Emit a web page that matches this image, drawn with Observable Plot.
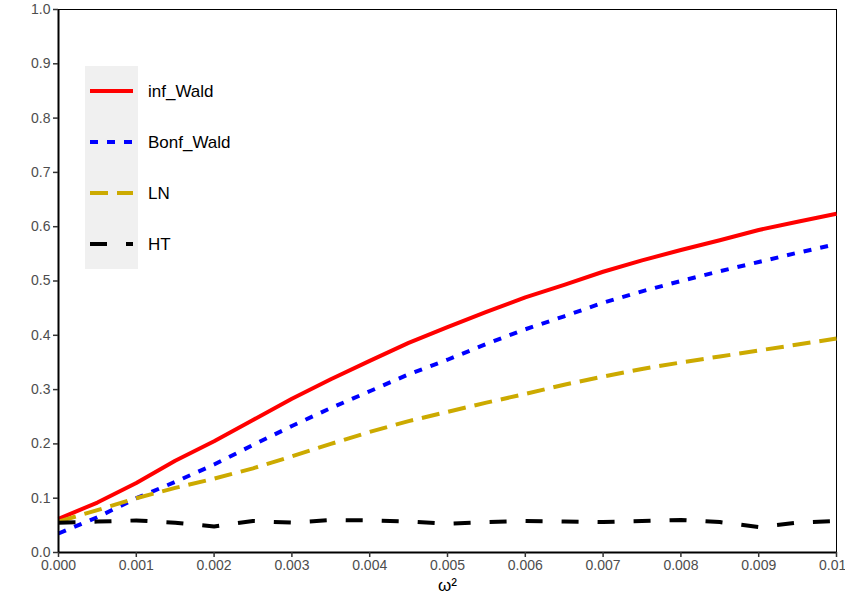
<!DOCTYPE html>
<html>
<head>
<meta charset="utf-8">
<script src="https://cdn.jsdelivr.net/npm/d3@7"></script>
<script src="https://cdn.jsdelivr.net/npm/@observablehq/plot@0.6"></script>
<style>
  body { margin: 0; background: #fff; font-family: "Liberation Sans", Arial, sans-serif; }
  #wrap { position: relative; width: 845px; height: 610px; overflow: hidden; }
  #legend { position: absolute; left: 85px; top: 66px; }
</style>
</head>
<body>
<div id="wrap">
  <div id="chart"></div>
  <div id="legend"></div>
</div>
<script>
const omega2 = [0,0.0005,0.001,0.0015,0.002,0.0025,0.003,0.0035,0.004,0.0045,0.005,0.0055,0.006,0.0065,0.007,0.0075,0.008,0.0085,0.009,0.0095,0.01];
const infWald  = [0.062,0.092,0.128,0.169,0.205,0.244,0.283,0.319,0.353,0.386,0.415,0.443,0.470,0.493,0.517,0.538,0.557,0.575,0.594,0.609,0.624];
const bonfWald = [0.035,0.065,0.100,0.130,0.162,0.198,0.233,0.266,0.297,0.328,0.355,0.384,0.411,0.435,0.460,0.481,0.500,0.518,0.535,0.552,0.568];
const LN       = [0.057,0.078,0.100,0.119,0.136,0.155,0.177,0.200,0.222,0.242,0.259,0.276,0.292,0.309,0.324,0.338,0.350,0.361,0.372,0.383,0.394];
const HT       = [0.055,0.057,0.059,0.055,0.048,0.058,0.055,0.060,0.059,0.057,0.053,0.056,0.058,0.057,0.056,0.058,0.060,0.056,0.047,0.055,0.058];
const seriesNames = ["inf_Wald","Bonf_Wald","LN","HT"];
const seriesValues = [infWald, bonfWald, LN, HT];
const seriesColors = ["#ff0000","#0000ff","#ccaa00","#000000"];
const seriesDash = [null,"8,9","18,9","17,19"];
const xTicks = [0,0.001,0.002,0.003,0.004,0.005,0.006,0.007,0.008,0.009,0.01];
const yTicks = [0,0.1,0.2,0.3,0.4,0.5,0.6,0.7,0.8,0.9,1.0];

const lines = seriesNames.map((name, i) =>
  Plot.line(omega2.map((x, j) => ({x, y: seriesValues[i][j]})), {
    x: "x", y: "y", stroke: seriesColors[i], strokeWidth: 4,
    strokeDasharray: seriesDash[i] ?? undefined, strokeLinecap: "butt", strokeLinejoin: "round"
  })
);

const chart = Plot.plot({
  width: 845, height: 610,
  marginLeft: 58, marginRight: 9, marginTop: 9, marginBottom: 58,
  style: { fontFamily: "Liberation Sans, Arial, sans-serif", fontSize: "14px", background: "#fff" },
  x: { domain: [0, 0.01] },
  y: { domain: [0, 1] },
  marks: [
    Plot.frame({ stroke: "#000", strokeWidth: 1 }),
    ...lines,
    Plot.ruleX([0], { stroke: "#000", strokeWidth: 2 }),
    Plot.ruleY([0], { stroke: "#000", strokeWidth: 2 }),
    Plot.axisX(xTicks, { tickFormat: d3.format(".3f"), tickSize: 5, tickPadding: 3, stroke: "#333", strokeWidth: 1.5, color: "#4d4d4d", fontSize: 14, label: null }),
    Plot.axisY(yTicks, { tickFormat: d3.format(".1f"), tickSize: 5, tickPadding: 3, stroke: "#333", strokeWidth: 1.5, color: "#4d4d4d", fontSize: 14, label: null }),
    Plot.text(["ω²"], { frameAnchor: "bottom", dy: 38, fontSize: 17, fill: "#000" })
  ]
});
document.getElementById("chart").appendChild(chart);

// legend
const lg = d3.create("svg").attr("width", 150).attr("height", 204)
  .style("font-family", "Liberation Sans, Arial, sans-serif").style("overflow", "visible");
lg.append("rect").attr("x", 0).attr("y", 0).attr("width", 53).attr("height", 203).attr("fill", "#f0f0f0");
seriesNames.forEach((name, i) => {
  const cy = 25 + i * 51;
  lg.append("line").attr("x1", 5).attr("x2", 48).attr("y1", cy).attr("y2", cy)
    .attr("stroke", seriesColors[i]).attr("stroke-width", 4)
    .attr("stroke-dasharray", seriesDash[i]);
  lg.append("text").attr("x", 63).attr("y", cy).attr("dy", "0.35em")
    .attr("font-size", 17).attr("fill", "#000").text(name);
});
document.getElementById("legend").appendChild(lg.node());
</script>
</body>
</html>
